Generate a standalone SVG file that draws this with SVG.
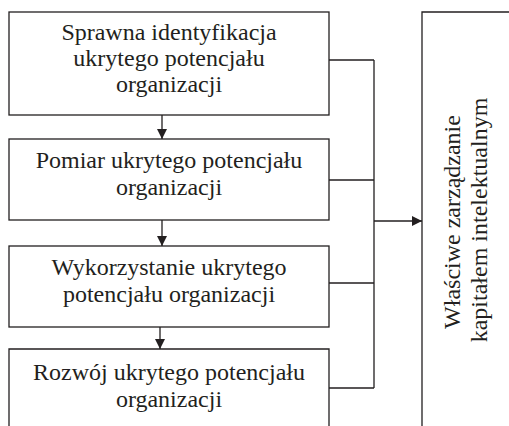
<svg xmlns="http://www.w3.org/2000/svg" width="509" height="426" viewBox="0 0 509 426">
<style>
.box{fill:#fff;stroke:#231f20;stroke-width:1.3}
.ln{fill:none;stroke:#231f20;stroke-width:1.3}
.t{font-family:'Liberation Serif','Times New Roman',serif;font-size:24px;fill:#231f20;text-anchor:middle}
</style>
<defs>
<marker id="ah" viewBox="0 0 10 10" refX="10" refY="5" markerWidth="10" markerHeight="10" markerUnits="userSpaceOnUse" orient="auto">
<path d="M0,0 L10,5 L0,10 z" fill="#231f20"/>
</marker>
</defs>
<g id="n1">
<rect class="box" x="9" y="12" width="320" height="103"/>
<text class="t" x="169" y="40">Sprawna identyfikacja</text>
<text class="t" x="169" y="66">ukrytego potencjału</text>
<text class="t" x="169" y="92">organizacji</text>
</g>
<g id="n2">
<rect class="box" x="9" y="139" width="320" height="81"/>
<text class="t" x="169" y="168">Pomiar ukrytego potencjału</text>
<text class="t" x="169" y="195">organizacji</text>
</g>
<g id="n3">
<rect class="box" x="9" y="246" width="320" height="81"/>
<text class="t" x="169" y="275">Wykorzystanie ukrytego</text>
<text class="t" x="169" y="302">potencjału organizacji</text>
</g>
<g id="n4">
<path class="ln" d="M9,427 V349 H329 V427"/>
<text class="t" x="169" y="380">Rozwój ukrytego potencjału</text>
<text class="t" x="169" y="407">organizacji</text>
</g>
<g id="n5">
<path class="ln" d="M422,427 V12 H510"/>
<text class="t" transform="translate(460,222) rotate(-90)">Właściwe zarządzanie</text>
<text class="t" transform="translate(487,220) rotate(-90)">kapitałem intelektualnym</text>
</g>
<g id="connectors">
<line class="ln" x1="162" y1="115" x2="162" y2="139" marker-end="url(#ah)"/>
<line class="ln" x1="162" y1="220" x2="162" y2="246" marker-end="url(#ah)"/>
<line class="ln" x1="160" y1="327" x2="160" y2="349" marker-end="url(#ah)"/>
<path class="ln" d="M329,60 H374 M329,180 H374 M329,283 H374 M329,388 H374 M374,60 V388"/>
<line class="ln" x1="374" y1="221" x2="422" y2="221" marker-end="url(#ah)"/>
</g>
</svg>
